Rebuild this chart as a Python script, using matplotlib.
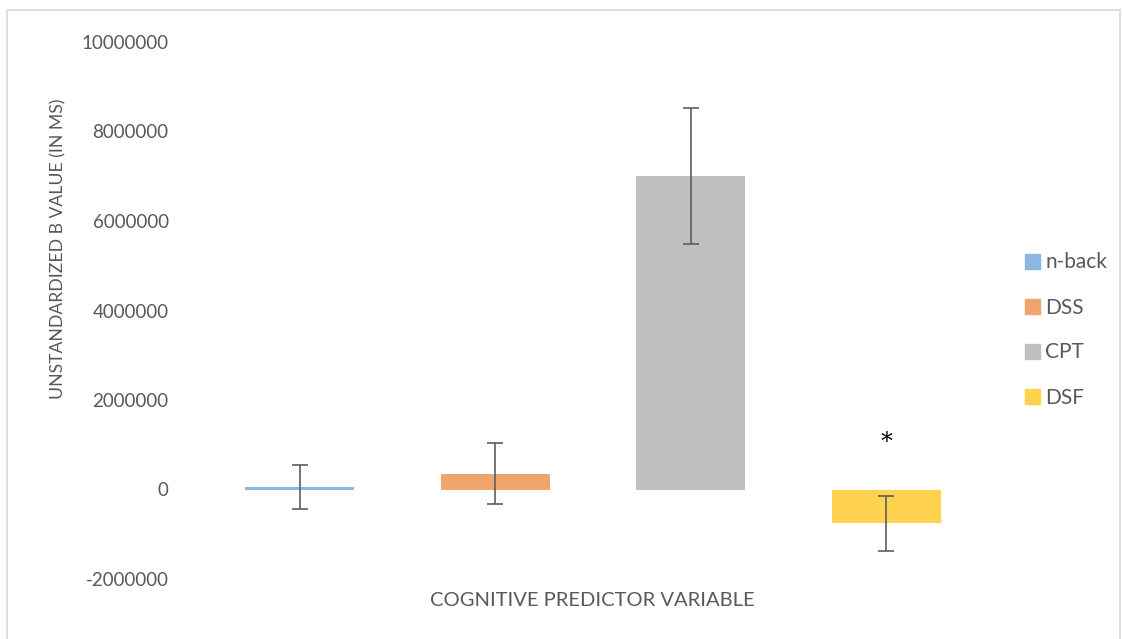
import matplotlib
matplotlib.use("Agg")
import matplotlib.pyplot as plt
from matplotlib.patches import Rectangle

# Unstandardized B values per cognitive predictor, with error half-widths
categories = ["n-back", "DSS", "CPT", "DSF"]
values = [60000, 350000, 7010000, -755000]
errors = [490000, 685000, 1520000, 610000]
colors = ["#8BB8E0", "#F0A46E", "#BFBFBF", "#FFD24F"]
significant = [False, False, False, True]
yticks = [-2000000, 0, 2000000, 4000000, 6000000, 8000000, 10000000]

plt.rcParams["font.family"] = ["Lato", "DejaVu Sans"]
text_color = "#595959"

W, H = 1122, 639
fig = plt.figure(figsize=(W / 100, H / 100), dpi=100)

# light outer frame of the chart area
fig.patches.append(Rectangle((7 / W, -0.01), (W - 9) / W, 1 - 10 / H + 0.01,
                             transform=fig.transFigure, fill=False,
                             edgecolor="#D9D9D9", linewidth=1.2))

left, right, top, bottom = 202, 984, 42, 579
ax = fig.add_axes([left / W, 1 - bottom / H, (right - left) / W, (bottom - top) / H])

x = list(range(len(categories)))
bars = ax.bar(x, values, width=0.56, color=colors, zorder=2)
ax.errorbar(x, values, yerr=errors, fmt="none", ecolor="#5E5E5E",
            elinewidth=1.2, capsize=6, capthick=1.2, zorder=3)

for xi, v, e, sig in zip(x, values, errors, significant):
    if sig:
        ax.text(xi, 1060000, "*", ha="center", va="center", fontsize=17,
                color="black", family=["DejaVu Serif"])

ax.set_xlim(-0.5, len(categories) - 0.5)
ax.set_ylim(-2000000, 10000000)
ax.set_yticks(yticks)
ax.set_yticklabels([str(t) for t in yticks])
ax.set_xticks([])
ax.tick_params(axis="y", length=0, pad=24, labelsize=13.5, labelcolor=text_color)
for s in ax.spines.values():
    s.set_visible(False)

fig.text(592 / W, 1 - 601 / H, "COGNITIVE PREDICTOR VARIABLE", ha="center",
         va="center", fontsize=14.5, color=text_color)
fig.text(58 / W, 1 - 249 / H, "UNSTANDARDIZED B VALUE (IN MS)", ha="center",
         va="center", rotation=90, fontsize=12.7, color=text_color)

handles = [Rectangle((0, 0), 1, 1, color=c) for c in colors]
fig.legend(handles, categories, loc="center left",
           bbox_to_anchor=(1025 / W, 1 - 330 / H), frameon=False,
           fontsize=15, labelcolor=text_color, handlelength=0.7,
           handleheight=0.7, handletextpad=0.28, labelspacing=1.2,
           borderpad=0, borderaxespad=0)

fig.savefig("out.png", dpi=100)
